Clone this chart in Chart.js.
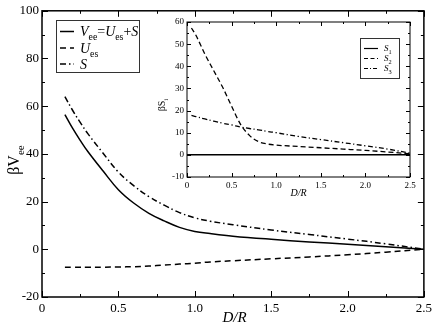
<!DOCTYPE html>
<html>
<head>
<meta charset="utf-8">
<script src="https://cdn.jsdelivr.net/npm/chart.js@4/dist/chart.umd.min.js"></script>
<style>
  html, body { margin: 0; padding: 0; background: #fff; }
  #wrap { position: relative; width: 436px; height: 324px; }
  #wrap canvas { position: absolute; left: 0; top: 0; }
</style>
</head>
<body>
<div id="wrap">
  <canvas id="mainChart" width="436" height="324"></canvas>
  <canvas id="insetChart" width="436" height="324"></canvas>
</div>
<script>
// main panel: interaction energy vs D/R
const dMain = [0.15, 0.2, 0.25, 0.3, 0.4, 0.5, 0.6, 0.7, 0.8, 0.9, 1.0, 1.1, 1.25, 1.5, 1.75, 2.0, 2.25, 2.5];
const vEE   = [56.5, 50.8, 45.7, 41.0, 32.8, 25.0, 19.4, 15.1, 11.9, 9.2, 7.5, 6.6, 5.5, 4.2, 3.1, 2.1, 1.1, 0];
const uES   = [-7.5, -7.5, -7.5, -7.5, -7.5, -7.4, -7.3, -7.0, -6.6, -6.2, -5.8, -5.3, -4.8, -4.0, -3.2, -2.3, -1.2, 0];
const sTot  = [64.0, 58.3, 53.2, 48.5, 40.3, 32.4, 26.7, 22.1, 18.5, 15.4, 13.2, 11.8, 10.3, 8.1, 6.2, 4.3, 2.3, 0];

// inset: the three S_i terms
const dS1 = [0, 2.5];
const s1  = [0, 0];
const dInset = [0.05, 0.1, 0.2, 0.3, 0.4, 0.5, 0.6, 0.7, 0.8, 0.9, 1.0, 1.25, 1.5, 1.75, 2.0, 2.25, 2.5];
const s2 = [57.3, 54.0, 45.5, 38.0, 30.5, 22.0, 13.8, 8.8, 6.0, 4.9, 4.4, 3.8, 3.2, 2.6, 2.0, 1.3, 0.5];
const s3 = [17.8, 17.3, 16.2, 15.2, 14.3, 13.5, 12.6, 11.9, 11.3, 10.6, 10.0, 8.3, 6.9, 5.5, 4.1, 2.6, 0.8];

const SERIF = '"Liberation Serif", "DejaVu Serif", serif';
const DASH = [6, 4];
const DASHDOT = [6, 3, 1.5, 3];

const pts = (xs, ys) => xs.map((x, i) => ({ x: x, y: ys[i] }));

function line(ds, dash, w, smooth) {
  const o = {
    data: ds, borderColor: '#000', borderWidth: w, borderDash: dash,
    pointRadius: 0, fill: false
  };
  if (smooth) o.tension = 0.4;
  else o.cubicInterpolationMode = 'monotone';
  return o;
}

// rich text: parts = [{t, it, sub}]
function richWidth(ctx, parts, size) {
  let w = 0;
  parts.forEach(p => {
    ctx.font = `${p.it ? 'italic ' : ''}${p.sub ? size * 0.7 : size}px ${SERIF}`;
    w += ctx.measureText(p.t).width;
  });
  return w;
}
function drawRich(ctx, parts, x, y, size) {
  let cx = x;
  ctx.textAlign = 'left';
  ctx.textBaseline = 'alphabetic';
  parts.forEach(p => {
    ctx.font = `${p.it ? 'italic ' : ''}${p.sub ? size * 0.7 : size}px ${SERIF}`;
    ctx.fillText(p.t, cx, y + (p.sub ? size * 0.3 : 0));
    cx += ctx.measureText(p.t).width;
  });
}

// frame with inward ticks on all four sides
const framePlugin = {
  id: 'frame',
  beforeDatasetsDraw(chart, args, o) {
    const { ctx, chartArea: a } = chart;
    if (o.fill) {
      ctx.save();
      ctx.fillStyle = '#fff';
      ctx.fillRect(a.left, a.top, a.right - a.left, a.bottom - a.top);
      ctx.restore();
    }
  },
  afterDatasetsDraw(chart, args, o) {
    const { ctx, chartArea: a, scales: { x, y } } = chart;
    ctx.save();
    ctx.strokeStyle = '#000';
    ctx.lineWidth = o.lw;
    ctx.strokeRect(a.left, a.top, a.right - a.left, a.bottom - a.top);
    ctx.lineWidth = 1;
    ctx.beginPath();
    const isMajor = (v, step) => Math.abs(v / step - Math.round(v / step)) < 1e-6;
    for (let v = x.min; v <= x.max + 1e-9; v += o.xMinor) {
      const len = isMajor(v, o.xMajor) ? o.major : o.minor;
      const px = Math.round(x.getPixelForValue(v)) + 0.5;
      ctx.moveTo(px, a.bottom); ctx.lineTo(px, a.bottom - len);
      ctx.moveTo(px, a.top); ctx.lineTo(px, a.top + len);
    }
    for (let v = y.min; v <= y.max + 1e-9; v += o.yMinor) {
      const len = isMajor(v, o.yMajor) ? o.major : o.minor;
      const py = Math.round(y.getPixelForValue(v)) + 0.5;
      ctx.moveTo(a.left, py); ctx.lineTo(a.left + len, py);
      ctx.moveTo(a.right, py); ctx.lineTo(a.right - len, py);
    }
    ctx.stroke();
    ctx.restore();
  },
  afterDraw(chart, args, o) {
    if (o.decorate) o.decorate(chart);
  }
};

function legendBox(ctx, box, rows, size, sample) {
  ctx.save();
  ctx.strokeStyle = '#333';
  ctx.lineWidth = 1;
  ctx.strokeRect(box[0] + 0.5, box[1] + 0.5, box[2], box[3]);
  ctx.fillStyle = '#000';
  rows.forEach(r => {
    ctx.strokeStyle = '#000';
    ctx.lineWidth = r.w;
    ctx.setLineDash(r.dash);
    ctx.beginPath();
    ctx.moveTo(sample[0], r.y);
    ctx.lineTo(sample[1], r.y);
    ctx.stroke();
    ctx.setLineDash([]);
    drawRich(ctx, r.parts, sample[2], r.y + size * 0.33, size);
  });
  ctx.restore();
}

function decorateMain(chart) {
  const ctx = chart.ctx;
  ctx.save();
  ctx.fillStyle = '#000';
  // x title
  const xt = [{ t: 'D', it: true }, { t: '/', it: true }, { t: 'R', it: true }];
  drawRich(ctx, xt, 234.5 - richWidth(ctx, xt, 15) / 2, 322, 15);
  // y title
  const yt = [{ t: 'β' }, { t: 'V' }, { t: 'ee', sub: true }];
  ctx.translate(19, 160);
  ctx.rotate(-Math.PI / 2);
  drawRich(ctx, yt, -richWidth(ctx, yt, 16) / 2, 0, 16);
  ctx.restore();

  legendBox(ctx, [56, 20, 83, 52], [
    { y: 31.5, w: 1.5, dash: [], parts: [{ t: 'V', it: true }, { t: 'ee', sub: true }, { t: '=' }, { t: 'U', it: true }, { t: 'es', sub: true }, { t: '+' }, { t: 'S', it: true }] },
    { y: 48, w: 1.5, dash: DASH, parts: [{ t: 'U', it: true }, { t: 'es', sub: true }] },
    { y: 64, w: 1.5, dash: DASHDOT, parts: [{ t: 'S', it: true }] }
  ], 14, [60, 74, 80]);
}

function decorateInset(chart) {
  const ctx = chart.ctx;
  ctx.save();
  ctx.fillStyle = '#000';
  const xt = [{ t: 'D', it: true }, { t: '/', it: true }, { t: 'R', it: true }];
  drawRich(ctx, xt, 298.5 - richWidth(ctx, xt, 10) / 2, 196, 10);
  const yt = [{ t: 'β' }, { t: 'S' }, { t: 'i', sub: true }];
  ctx.translate(165, 105);
  ctx.rotate(-Math.PI / 2);
  drawRich(ctx, yt, -richWidth(ctx, yt, 10) / 2, 0, 10);
  ctx.restore();

  legendBox(ctx, [360, 38, 39, 40], [
    { y: 48.5, w: 1.2, dash: [], parts: [{ t: 'S', it: true }, { t: '1', sub: true }] },
    { y: 58.5, w: 1.2, dash: [4, 2.5], parts: [{ t: 'S', it: true }, { t: '2', sub: true }] },
    { y: 68.5, w: 1.2, dash: [4, 2, 1, 2], parts: [{ t: 'S', it: true }, { t: '3', sub: true }] }
  ], 9, [364, 378, 384]);
}

function axes(xFit, yFit, size, yMin, yMax, yStep) {
  const common = {
    type: 'linear',
    grid: { display: false, drawTicks: false },
    border: { display: false }
  };
  return {
    x: Object.assign({}, common, {
      min: 0, max: 2.5,
      ticks: { stepSize: 0.5, padding: size > 10 ? 4 : 3, color: '#000', font: { family: SERIF, size: size } },
      afterFit: s => { s.height = xFit; }
    }),
    y: Object.assign({}, common, {
      min: yMin, max: yMax,
      ticks: { stepSize: yStep, padding: 3, color: '#000', font: { family: SERIF, size: size } },
      afterFit: s => { s.width = yFit; }
    })
  };
}

Chart.register(framePlugin);

new Chart(document.getElementById('mainChart'), {
  type: 'line',
  data: {
    datasets: [
      line(pts(dMain, vEE), [], 1.5, true),
      line(pts(dMain, uES), DASH, 1.5, true),
      line(pts(dMain, sTot), DASHDOT, 1.5, true)
    ]
  },
  options: {
    responsive: false, animation: false, events: [],
    layout: { padding: { top: 5, right: 9, left: 0, bottom: 0 } },
    scales: axes(27, 42, 13, -20, 100, 20),
    plugins: {
      legend: { display: false }, tooltip: { enabled: false },
      frame: { lw: 1.5, major: 6, minor: 3, xMajor: 0.5, xMinor: 0.25, yMajor: 20, yMinor: 10, decorate: decorateMain }
    }
  }
});

new Chart(document.getElementById('insetChart'), {
  type: 'line',
  data: {
    datasets: [
      line(pts(dS1, s1), [], 1.5, false),
      line(pts(dInset, s2), [5, 3], 1.3, false),
      line(pts(dInset, s3), [5, 2.5, 1.2, 2.5], 1.3, true)
    ]
  },
  options: {
    responsive: false, animation: false, events: [],
    layout: { padding: { top: 22, right: 26, left: 0, bottom: 0 } },
    scales: axes(147, 187, 9, -10, 60, 10),
    plugins: {
      legend: { display: false }, tooltip: { enabled: false },
      frame: { fill: true, lw: 1, major: 4, minor: 2, xMajor: 0.5, xMinor: 0.25, yMajor: 10, yMinor: 5, decorate: decorateInset }
    }
  }
});
</script>
</body>
</html>
